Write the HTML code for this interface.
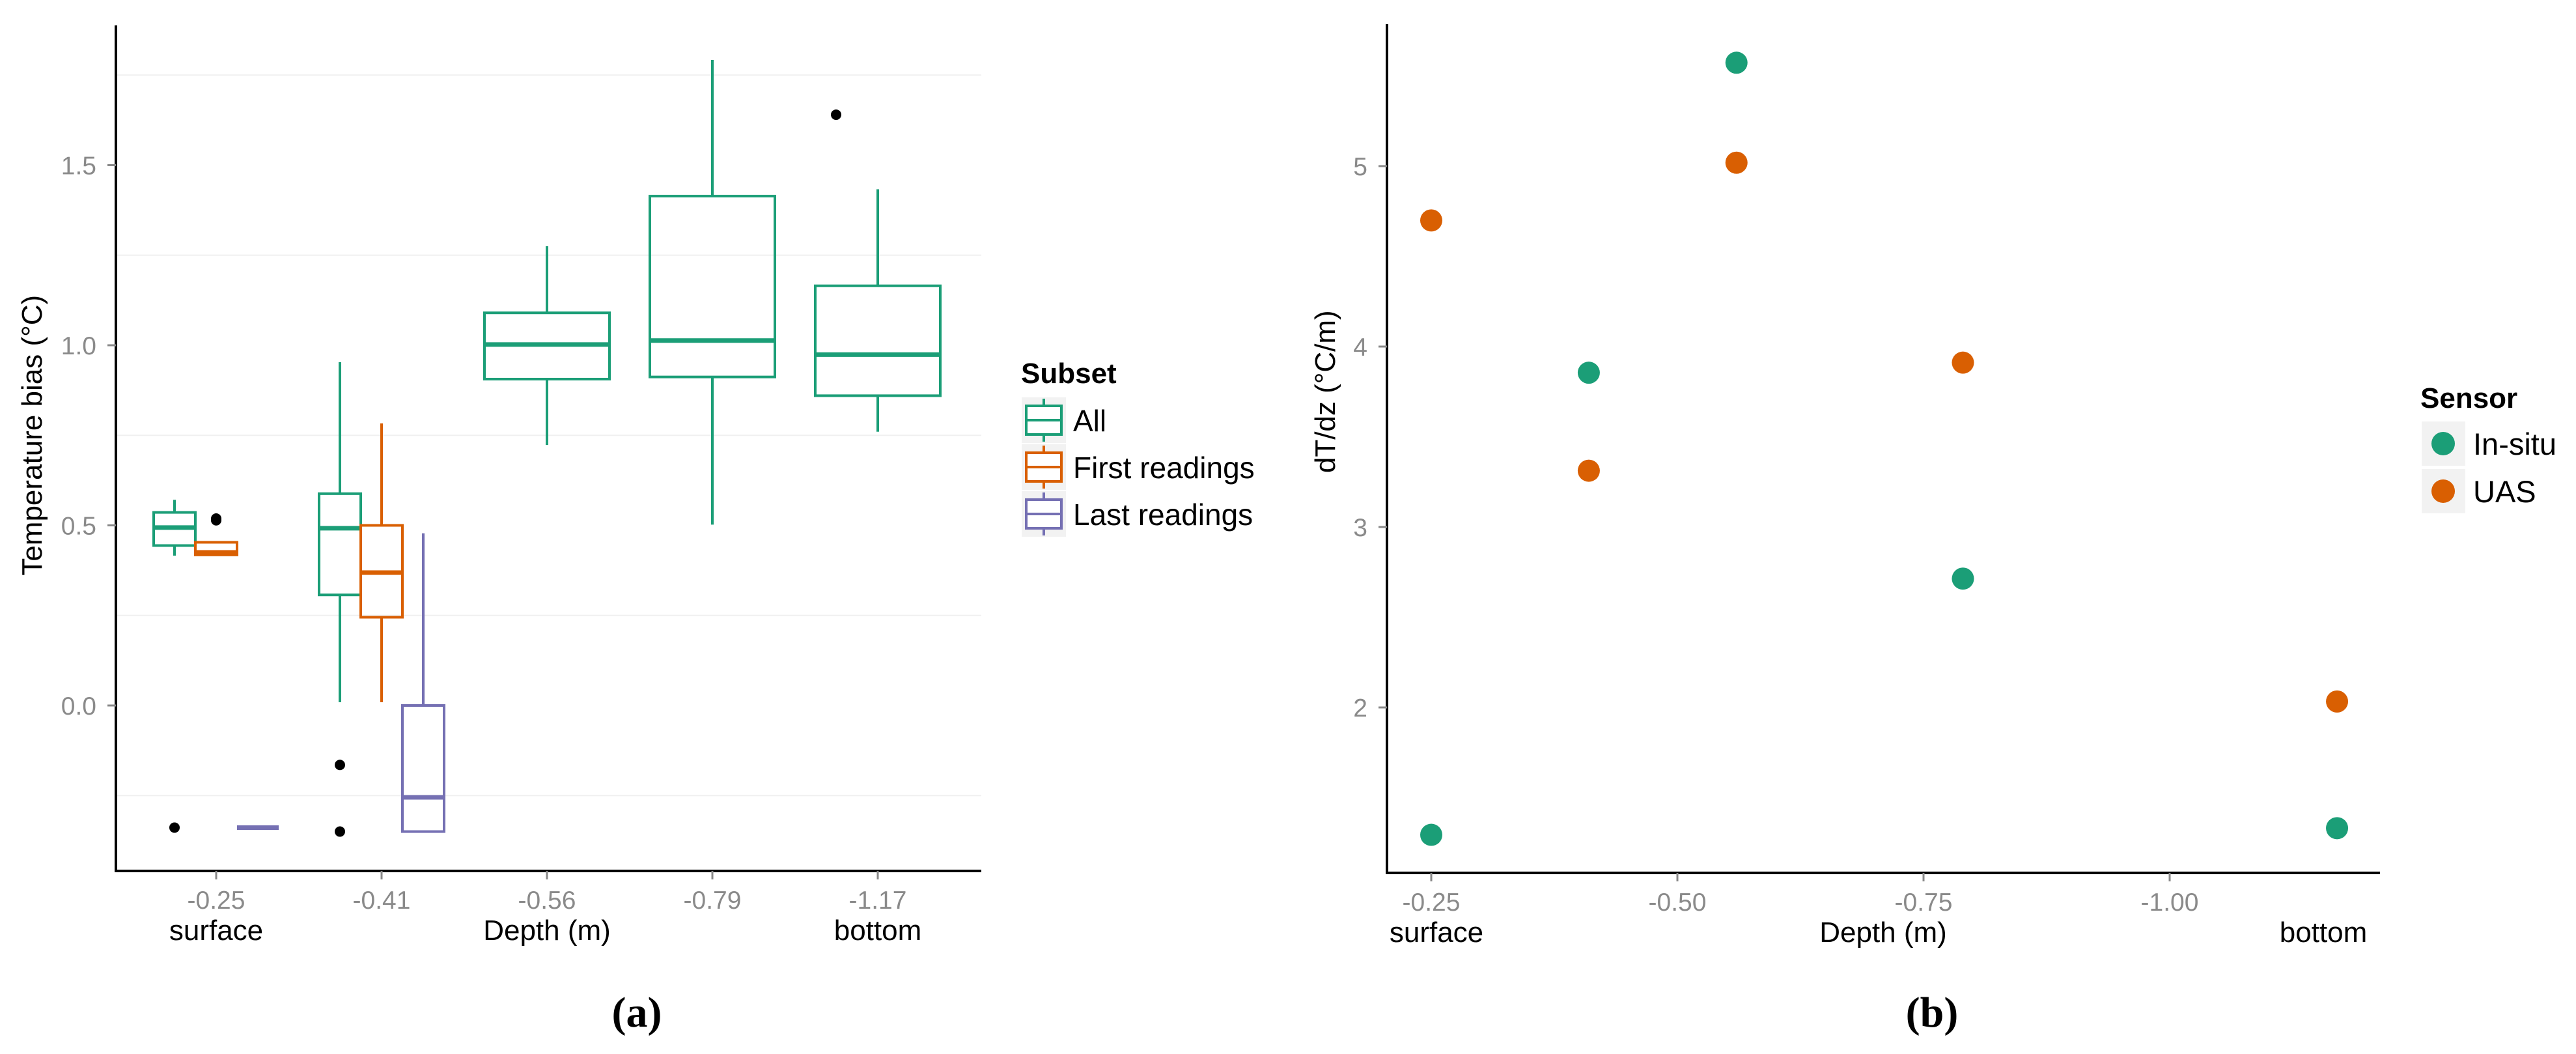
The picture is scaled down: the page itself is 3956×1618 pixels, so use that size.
<!DOCTYPE html>
<html><head><meta charset="utf-8"><style>
html,body{margin:0;padding:0;background:#fff}
svg{display:block;font-family:"Liberation Sans",sans-serif}
</style></head><body>
<svg id="c" width="3956" height="1618" viewBox="0 0 3956 1618" xmlns="http://www.w3.org/2000/svg">
<g id="pa"></g>
<g id="pb"></g>
</svg>
<script>
// Panel (a) data
const depthCats = ["-0.25","-0.41","-0.56","-0.79","-1.17"];
const subsets = ["All","First readings","Last readings"];
const yTicksA = [0.0,0.5,1.0,1.5];
const yMinorA = [-0.25,0.25,0.75,1.25,1.75];
// [catIndex, subsetIndex, lo, q1, med, q3, hi]
const boxAll = [[0,0.416,0.444,0.494,0.536,0.571],[1,0.009,0.307,0.492,0.588,0.953],[2,0.723,0.906,1.002,1.090,1.275],[3,0.502,0.912,1.013,1.414,1.792],[4,0.760,0.860,0.974,1.165,1.433]];
const boxFirst = [[0,0.418,0.418,0.425,0.453,0.453],[1,0.009,0.245,0.369,0.500,0.783]];
const boxLast = [[0,-0.339,-0.339,-0.339,-0.339,-0.339],[1,-0.350,-0.350,-0.255,0.0,0.478]];
const outliers = [[0,0,-0.339],[0,1,0.519],[0,1,0.514],[1,0,-0.165],[1,0,-0.350],[4,0,1.640]];
// Panel (b) data
const xTicksB = [-0.25,-0.50,-0.75,-1.00];
const yTicksB = [2,3,4,5];
const depthB = [-0.25,-0.41,-0.56,-0.79,-1.17];
const inSitu = [1.294,3.855,5.573,2.714,1.331];
const uas = [4.699,3.312,5.019,3.911,2.033];

const NS="http://www.w3.org/2000/svg";
const cols=["#1b9e77","#d95f02","#7570b3"];
function mk(p,tag,at,txt){const e=document.createElementNS(NS,tag);for(const k in at)e.setAttribute(k,at[k]);if(txt!==undefined)e.textContent=txt;p.appendChild(e);return e;}
const pa=document.getElementById('pa'), pb=document.getElementById('pb');

// ---- Panel a
const ax0=178, ax1=1507, ay0=39, ay1=1337;
const ya=v=>1083-553*v;
const xa=i=>332+i*254;
const bw=64;
const offs=[-1,0,1];
yMinorA.forEach(v=>{const l=mk(pa,'line',{x1:ax0,x2:ax1,y1:ya(v),y2:ya(v),stroke:'#f0f0f0','stroke-width':2});

});
function drawBoxes(arr,si,name){
  arr.forEach(b=>{
    const single = (b[0]>=2);
    const w = single?192:bw;
    const cx = single?xa(b[0]):xa(b[0])+offs[si]*bw;
    const g=mk(pa,'g',{});
    
    
    const st={stroke:cols[si],'stroke-width':4,fill:'none'};
    mk(g,'line',Object.assign({x1:cx,x2:cx,y1:ya(b[5]),y2:ya(b[4])},st));
    mk(g,'line',Object.assign({x1:cx,x2:cx,y1:ya(b[2]),y2:ya(b[1])},st));
    mk(g,'rect',Object.assign({x:cx-w/2,y:ya(b[4]),width:w,height:Math.max(0,ya(b[2])-ya(b[4]))},st));
    mk(g,'line',{x1:cx-w/2,x2:cx+w/2,y1:ya(b[3]),y2:ya(b[3]),stroke:cols[si],'stroke-width':7});
  });
}
drawBoxes(boxAll,0,'all');drawBoxes(boxFirst,1,'first');drawBoxes(boxLast,2,'last');
outliers.forEach(o=>{const c=mk(pa,'circle',{cx:xa(o[0])+offs[o[1]]*bw,cy:ya(o[2]),r:8,fill:'#000'});

});
// axes
mk(pa,'line',{x1:ax0,x2:ax0,y1:ay0,y2:ay1+2,stroke:'#000','stroke-width':4});
mk(pa,'line',{x1:ax0-2,x2:ax1,y1:ay1,y2:ay1,stroke:'#000','stroke-width':4});
yTicksA.forEach(v=>{mk(pa,'line',{x1:ax0-13,x2:ax0,y1:ya(v),y2:ya(v),stroke:'#888','stroke-width':3});
const t=mk(pa,'text',{x:148,y:ya(v)+14,'text-anchor':'end','font-size':39,fill:'#8a8a8a'},v.toFixed(1));

});
depthCats.forEach((d,i)=>{mk(pa,'line',{x1:xa(i),x2:xa(i),y1:ay1,y2:ay1+13,stroke:'#888','stroke-width':3});
const t=mk(pa,'text',{x:xa(i),y:1395,'text-anchor':'middle','font-size':39,fill:'#8a8a8a'},d);

});
[['surface',xa(0)],['Depth (m)',xa(2)],['bottom',xa(4)]].forEach(a=>{const t=mk(pa,'text',{x:a[1],y:1443,'text-anchor':'middle','font-size':44,fill:'#000'},a[0]);

});
const yt=mk(pa,'text',{x:0,y:0,transform:'translate(64,'+ya(0.75)+') rotate(-90)','text-anchor':'middle','font-size':44,fill:'#000'},'Temperature bias (°C)');


// legend a
const lt=mk(pa,'text',{x:1568,y:588,'font-size':44,'font-weight':'bold',fill:'#000'},'Subset');


subsets.forEach((s,i)=>{const y0=610+i*72;const g=mk(pa,'g',{});


mk(g,'rect',{x:1569,y:y0,width:68,height:70,fill:'#f2f2f2'});
mk(g,'line',{x1:1603,x2:1603,y1:y0+2,y2:y0+68,stroke:cols[i],'stroke-width':4});
mk(g,'rect',{x:1576,y:y0+13,width:54,height:44,fill:'#fff',stroke:cols[i],'stroke-width':4});
mk(g,'line',{x1:1576,x2:1630,y1:y0+35,y2:y0+35,stroke:cols[i],'stroke-width':4});
mk(g,'text',{x:1648,y:y0+52,'font-size':46,fill:'#000'},s);});
const la=mk(pa,'text',{x:978,y:1576,'text-anchor':'middle','font-size':66,'font-weight':'bold','font-family':'"Liberation Serif",serif'},'(a)');



// ---- Panel b
const bx0=2130,bx1=3655,by0=37,by1=1340;
const xb=d=>2198+(-d-0.25)*1512;
const yb=v=>1086-277*(v-2);
mk(pb,'line',{x1:bx0,x2:bx0,y1:by0,y2:by1+2,stroke:'#000','stroke-width':4});
mk(pb,'line',{x1:bx0-2,x2:bx1,y1:by1,y2:by1,stroke:'#000','stroke-width':4});
yTicksB.forEach(v=>{mk(pb,'line',{x1:bx0-13,x2:bx0,y1:yb(v),y2:yb(v),stroke:'#888','stroke-width':3});
const t=mk(pb,'text',{x:2100,y:yb(v)+14,'text-anchor':'end','font-size':39,fill:'#8a8a8a'},String(v));

});
xTicksB.forEach(d=>{mk(pb,'line',{x1:xb(d),x2:xb(d),y1:by1,y2:by1+13,stroke:'#888','stroke-width':3});
const t=mk(pb,'text',{x:xb(d),y:1398,'text-anchor':'middle','font-size':39,fill:'#8a8a8a'},d.toFixed(2));

});
[['surface',2206],['Depth (m)',2892],['bottom',3568]].forEach(a=>{const t=mk(pb,'text',{x:a[1],y:1446,'text-anchor':'middle','font-size':44,fill:'#000'},a[0]);

});
const yt2=mk(pb,'text',{x:0,y:0,transform:'translate(2050,'+yb(3.75)+') rotate(-90)','text-anchor':'middle','font-size':44,fill:'#000'},'dT/dz (°C/m)');


depthB.forEach((d,i)=>{
const c1=mk(pb,'circle',{cx:xb(d),cy:yb(inSitu[i]),r:17,fill:cols[0]});


const c2=mk(pb,'circle',{cx:xb(d),cy:yb(uas[i]),r:17,fill:cols[1]});

});
const st=mk(pb,'text',{x:3717,y:626,'font-size':44,'font-weight':'bold',fill:'#000'},'Sensor');


['In-situ','UAS'].forEach((s,i)=>{const y0=647+i*73;const g=mk(pb,'g',{});


mk(g,'rect',{x:3719,y:y0,width:67,height:68,fill:'#f2f2f2'});
mk(g,'circle',{cx:3752,cy:y0+34,r:18,fill:cols[i]});
mk(g,'text',{x:3798,y:y0+51,'font-size':47,fill:'#000'},s);});
const lb=mk(pb,'text',{x:2967,y:1576,'text-anchor':'middle','font-size':66,'font-weight':'bold','font-family':'"Liberation Serif",serif'},'(b)');


</script>
</body></html>
